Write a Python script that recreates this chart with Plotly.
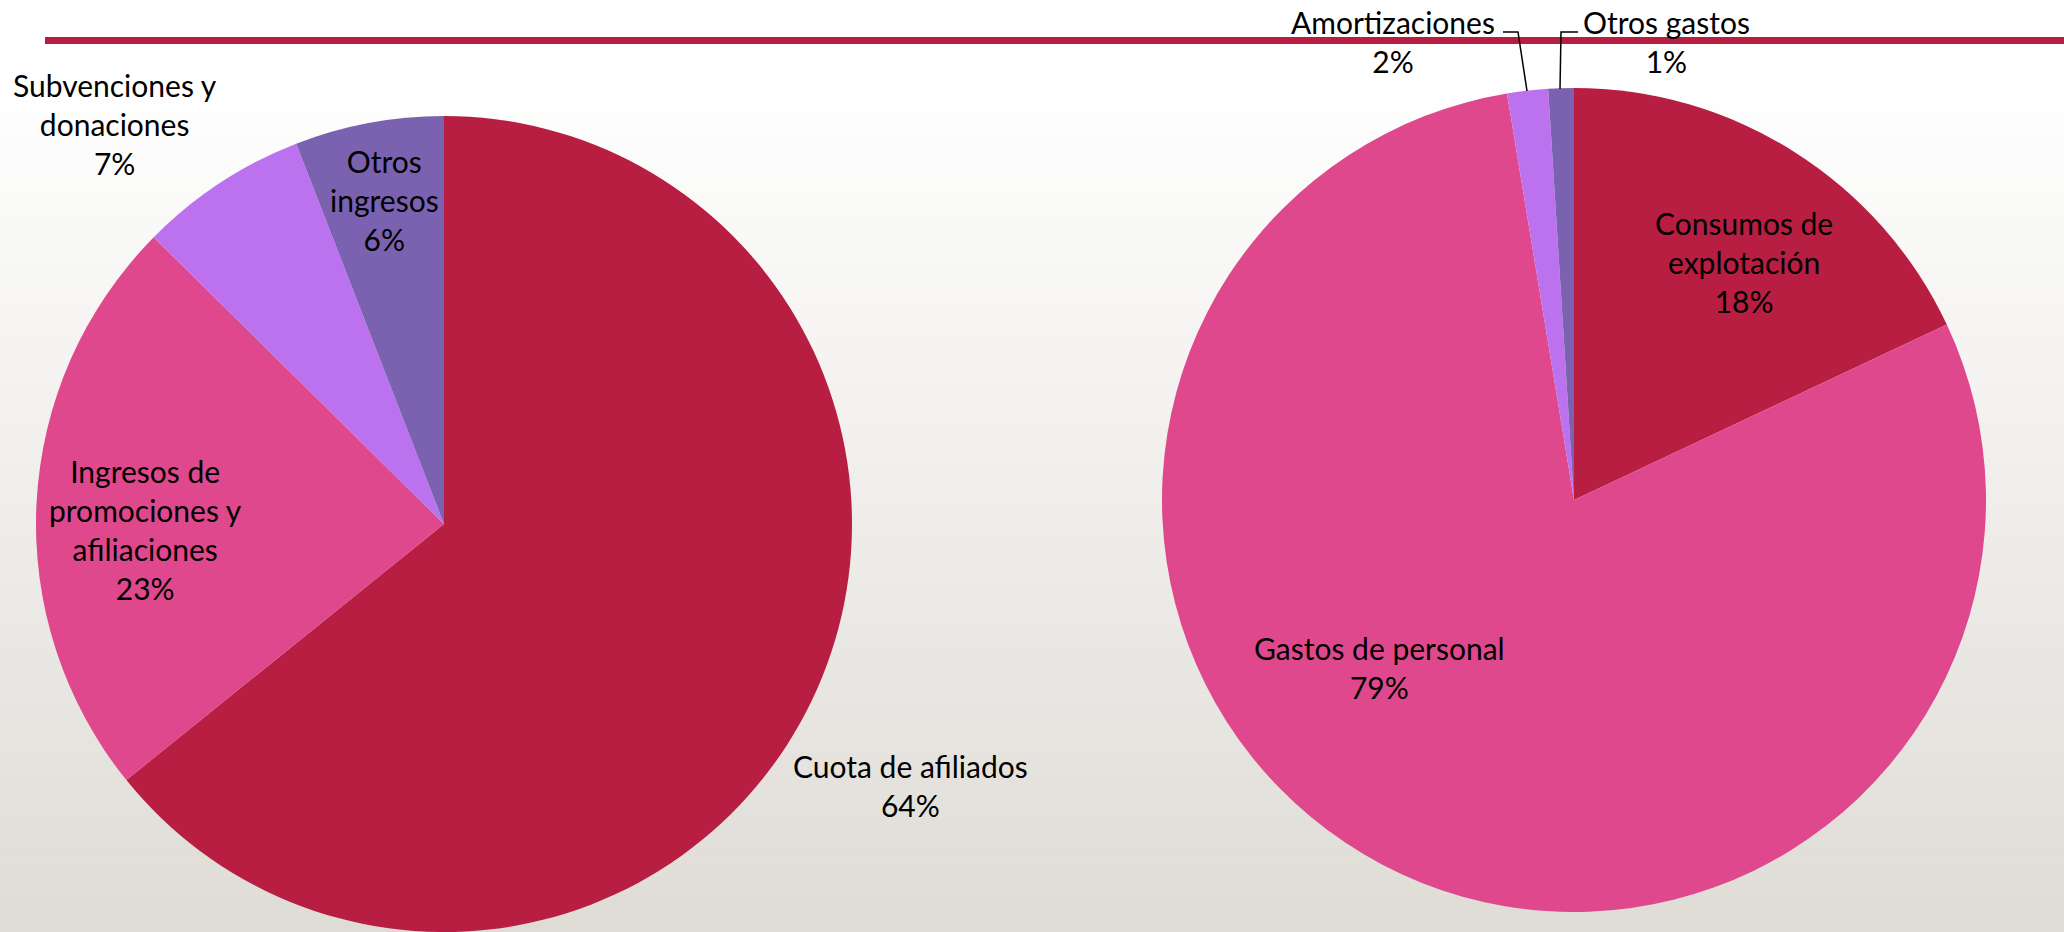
import plotly.graph_objects as go

# ---- data ----
income_labels = ["Cuota de afiliados", "Ingresos de<br>promociones y<br>afiliaciones",
                 "Subvenciones y<br>donaciones", "Otros<br>ingresos"]
income_values = [64.2, 23.2, 6.7, 5.9]

expense_labels = ["Consumos de<br>explotación", "Gastos de personal",
                  "Amortizaciones", "Otros gastos"]
expense_values = [18.0, 79.4, 1.6, 1.0]

colors = ["#B71E42", "#DF488D", "#BC72EE", "#7A62B0"]

W, H = 2064, 932

fig = go.Figure()
fig.add_trace(go.Pie(
    labels=[l.replace("<br>", " ") for l in income_labels], values=income_values,
    sort=False, direction="clockwise", rotation=0,
    marker=dict(colors=colors, line=dict(width=0)),
    textinfo="none", hoverinfo="label+percent", showlegend=False,
    domain=dict(x=[36 / W, 852 / W], y=[0, 816 / H]),
))
fig.add_trace(go.Pie(
    labels=[l.replace("<br>", " ") for l in expense_labels], values=expense_values,
    sort=False, direction="clockwise", rotation=0,
    marker=dict(colors=colors, line=dict(width=0)),
    textinfo="none", hoverinfo="label+percent", showlegend=False,
    domain=dict(x=[1162 / W, 1986 / W], y=[20 / H, 844 / H]),
))

# background gradient (white at top to warm light grey at bottom)
shapes = []
n = 90
top_c = (255, 255, 255)
bot_c = (223, 220, 214)
start = 80
for i in range(n):
    y0 = start + (H - start) * i / n
    y1 = start + (H - start) * (i + 1) / n + 0.5
    t = (i + 0.5) / n
    c = tuple(round(top_c[k] + (bot_c[k] - top_c[k]) * t) for k in range(3))
    shapes.append(dict(type="rect", xref="paper", yref="paper",
                       x0=0, x1=1, y0=1 - y1 / H, y1=1 - y0 / H,
                       fillcolor="rgb(%d,%d,%d)" % c, line=dict(width=0), layer="below"))

# red rule at top
shapes.append(dict(type="rect", xref="paper", yref="paper",
                   x0=45 / W, x1=1, y0=1 - 44 / H, y1=1 - 37 / H,
                   fillcolor="#B71E42", line=dict(width=0), layer="above"))

# leader lines for the small slices
def px_path(pts):
    return "M " + " L ".join("%f,%f" % (x / W, 1 - y / H) for x, y in pts)

for pts in ([(1503, 32), (1518, 32), (1527, 91)],
            [(1578, 32), (1561, 32), (1560, 89)]):
    shapes.append(dict(type="path", xref="paper", yref="paper", path=px_path(pts),
                       line=dict(color="black", width=1.5), layer="above"))

# labels
def pct(vals, i):
    return round(vals[i] / sum(vals) * 100)

income_pos = [(910, 785), (145, 529), (115, 124), (384, 200)]
expense_pos = [(1744, 262), (1379, 667), (1393, 41), (1666, 41)]

annotations = []
for labels, vals, pos in ((income_labels, income_values, income_pos),
                          (expense_labels, expense_values, expense_pos)):
    for i, (x, y) in enumerate(pos):
        annotations.append(dict(
            x=x / W, y=1 - y / H, xref="paper", yref="paper",
            text="%s<br>%d%%" % (labels[i], pct(vals, i)),
            showarrow=False, xanchor="center", yanchor="middle", align="center",
            font=dict(family="Lato", size=30, color="black"),
        ))

fig.update_layout(
    width=W, height=H,
    margin=dict(l=0, r=0, t=0, b=0),
    paper_bgcolor="white", plot_bgcolor="white",
    shapes=shapes, annotations=annotations,
    showlegend=False,
)

fig.write_html("out.html", config={"displayModeBar": False},
               post_script="document.body.style.margin='0';document.body.style.overflow='hidden';")
